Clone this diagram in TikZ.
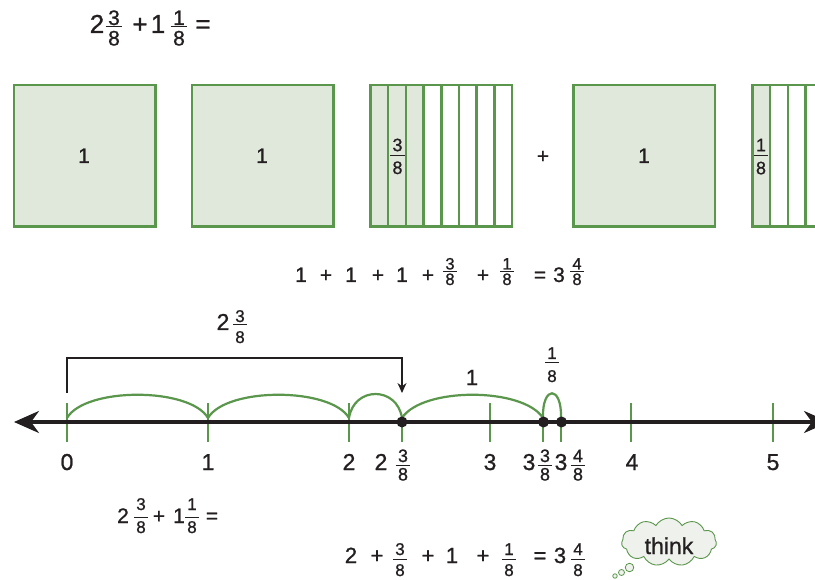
\documentclass[tikz,border=0pt]{standalone}
\usepackage{fontspec}
\setmainfont{Liberation Sans}[FakeBold=0.9]
\usetikzlibrary{arrows.meta,shapes.symbols}
\definecolor{grn}{HTML}{5A964B}
\definecolor{lgrn}{HTML}{E0E8DC}
\definecolor{ink}{HTML}{231F20}
\definecolor{cloudfill}{HTML}{EFF1ED}
% token: name, x, baseline y, text, font size
\newcommand\Tk[5]{\node[txt,font=\fontsize{#5}{#5}\selectfont,anchor=base] (#1) at (#2,#3) {#4};}
% fraction: name, x, bar y, num, den, font size, num offset, den offset
\newcommand\Fr[8]{%
 \node[txt,font=\fontsize{#6}{#6}\selectfont,anchor=base] (#1n) at (#2,{#3-#7}) {#4};
 \node[txt,font=\fontsize{#6}{#6}\selectfont,anchor=base] (#1d) at (#2,{#3+#8}) {#5};
 \draw[fbar] ({#2-0.4*#6},#3) -- ({#2+0.4*#6},#3);}
\begin{document}
\begin{tikzpicture}[x=1pt,y=-1pt,
 txt/.style={text=ink,inner sep=0pt},
 fbar/.style={draw=ink,line width=1pt},
 gline/.style={draw=grn,line width=2.6pt},
 sqbox/.style={draw=grn,line width=2.6pt,fill=lgrn},
 tick/.style={draw=grn,line width=2.4pt},
 hop/.style={draw=grn,line width=2.2pt},
 nline/.style={draw=ink,line width=3.2pt,{Stealth[length=25pt,width=22pt,inset=8pt]}-{Stealth[length=25pt,width=22pt,inset=8pt]}},
 brk/.style={draw=ink,line width=1.1pt,-{Stealth[length=10pt,width=9pt]}},
 dot/.style={circle,fill=ink,inner sep=0pt,minimum size=11pt},
 thought/.style={cloud,cloud puffs=11,cloud puff arc=120,aspect=2,draw=grn,line width=0.9pt,fill=cloudfill,minimum width=95pt,minimum height=48pt,inner sep=0pt},
 bub/.style={circle,draw=grn,line width=0.8pt,fill=cloudfill,inner sep=0pt}]
\useasboundingbox (0,0) rectangle (815,580);
\clip (0,0) rectangle (815,580);
\fill[white] (0,0) rectangle (815,580);

% top equation
\Tk{a1}{97}{33}{2}{26}
\Fr{a2}{114}{27}{3}{8}{21}{2}{18.5}
\Tk{a3}{140}{33}{+}{26}
\Tk{a4}{158}{33}{1}{26}
\Fr{a5}{179}{27}{1}{8}{21}{2}{18.5}
\Tk{a6}{203}{33}{=}{26}

% squares
\draw[sqbox] (14,85) rectangle (155.5,226.5);
\draw[sqbox] (192,85) rectangle (333.5,226.5);
\fill[lgrn] (370.5,85) rectangle ({370.5+3*17.6875},226.5);
\foreach \i in {1,...,7} \draw[gline] ({370.5+\i*17.6875},85) -- ({370.5+\i*17.6875},226.5);
\draw[gline] (370.5,85) rectangle (512,226.5);
\draw[sqbox] (573.5,85) rectangle (715,226.5);
\fill[lgrn] (752.5,85) rectangle ({752.5+17.6875},226.5);
\foreach \i in {1,...,7} \draw[gline] ({752.5+\i*17.6875},85) -- ({752.5+\i*17.6875},226.5);
\draw[gline] (752.5,85) rectangle (894,226.5);
\Tk{q1}{84}{163}{1}{21}
\Tk{q2}{262}{163}{1}{21}
\Fr{q3}{397.5}{155.7}{3}{8}{18}{4.5}{18.3}
\Tk{qp}{543}{163}{+}{21}
\Tk{q4}{644}{163}{1}{21}
\Fr{q5}{761}{156}{1}{8}{18}{4.8}{18.3}

% middle equation
\Tk{m1}{301}{282}{1}{21}
\Tk{m2}{326}{282}{+}{21}
\Tk{m3}{351}{282}{1}{21}
\Tk{m4}{378}{282}{+}{21}
\Tk{m5}{402}{282}{1}{21}
\Tk{m6}{428}{282}{+}{21}
\Fr{m7}{450}{271.5}{3}{8}{16.5}{2}{13.5}
\Tk{m8}{483}{282}{+}{21}
\Fr{m9}{507}{271.5}{1}{8}{16.5}{2}{13.5}
\Tk{m10}{540}{282}{=}{21}
\Tk{m11}{559}{282}{3}{21}
\Fr{m12}{577}{271.5}{4}{8}{16.5}{2}{13.5}

% bracket
\Tk{b1}{223}{330}{2}{23}
\Fr{b2}{240}{325}{3}{8}{17}{3}{18}
\coordinate (bs) at (67,393);
\coordinate (be) at (402,393);
\draw[brk] (bs) -- (67,358) -- (402,358) -- (be);

% hops
\draw[hop] (67,418) .. controls (85,387) and (190,387) .. (208,418);
\draw[hop] (208,418) .. controls (226,387) and (331,387) .. (349,418);
\draw[hop] (349,418) .. controls (354,386) and (397,386) .. (402,418);
\draw[hop] (402,418) .. controls (422,387) and (523,387) .. (543,418);
\draw[hop] (543,418) .. controls (542,385) and (562,385) .. (561,418);
\Tk{h1}{472}{385}{1}{22}
\Fr{h2}{552}{363}{1}{8}{17}{4}{19}

% ticks
\foreach \x in {67,208,349,490,631,773} \draw[tick] (\x,403) -- (\x,442);
\foreach \x in {402,543,561} \draw[tick] (\x,416) -- (\x,442);

% number line
\coordinate (L) at (14,422);
\coordinate (R) at (829,422);
\draw[nline] (L) -- (R);
\node[dot] (d1) at (402,422) {};
\node[dot] (d2) at (543.5,422) {};
\node[dot] (d3) at (561.5,422) {};

% number line labels
\Tk{n0}{67}{470}{0}{23}
\Tk{n1}{208}{470}{1}{23}
\Tk{n2}{349}{470}{2}{23}
\Tk{n3}{381}{470}{2}{23}
\Fr{n4}{403}{465}{3}{8}{18}{3}{15.5}
\Tk{n5}{490}{470}{3}{23}
\Tk{n6}{529}{470}{3}{23}
\Fr{n7}{545}{465}{3}{8}{18}{3}{15.5}
\Tk{n8}{561}{470}{3}{23}
\Fr{n9}{578}{465}{4}{8}{18}{3}{15.5}
\Tk{n10}{632}{470}{4}{23}
\Tk{n11}{773}{470}{5}{23}

% lower-left equation
\Tk{l1}{123}{523}{2}{21}
\Fr{l2}{141}{517}{3}{8}{17}{7}{16}
\Tk{l3}{159}{523}{+}{21}
\Tk{l4}{179}{523}{1}{21}
\Fr{l5}{192}{517}{1}{8}{17}{7}{16}
\Tk{l6}{212}{523}{=}{21}

% bottom equation
\Tk{e1}{351}{563}{2}{22}
\Tk{e2}{377}{563}{+}{22}
\Fr{e3}{400}{559}{3}{8}{17}{4}{17}
\Tk{e4}{428}{563}{+}{22}
\Tk{e5}{452}{563}{1}{22}
\Tk{e6}{483}{563}{+}{22}
\Fr{e7}{509}{559}{1}{8}{17}{4}{17}
\Tk{e8}{540}{563}{=}{22}
\Tk{e9}{560}{563}{3}{22}
\Fr{e10}{578}{559}{4}{8}{17}{4}{17}

% thought cloud
\node[bub,minimum size=4.5pt] (c1) at (615,576) {};
\node[bub,minimum size=6pt] (c2) at (621.5,572.5) {};
\node[bub,minimum size=8.5pt] (c3) at (629.5,567.5) {};
\node[thought] (cl) at (669,542) {};
\Tk{th}{669}{554}{think}{23}
\end{tikzpicture}
\end{document}
